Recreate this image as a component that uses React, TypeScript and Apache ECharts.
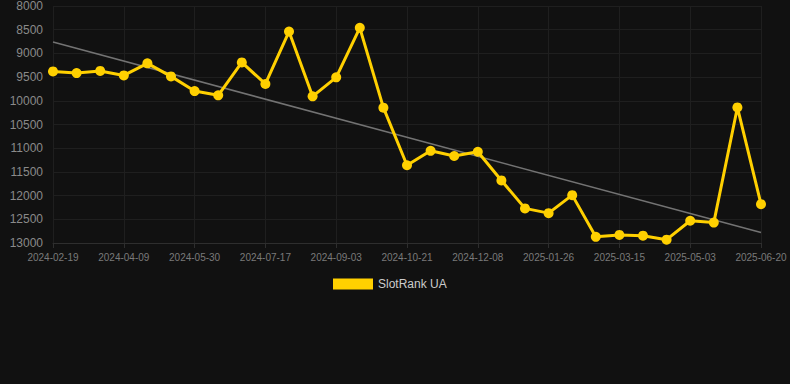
import React, { useEffect, useRef } from "react";
import * as echarts from "echarts";

const categories: string[] = [
  "2024-02-19", "2024-03-06", "2024-03-23",
  "2024-04-09", "2024-04-26", "2024-05-13",
  "2024-05-30", "2024-06-15", "2024-07-01",
  "2024-07-17", "2024-08-02", "2024-08-18",
  "2024-09-03", "2024-09-19", "2024-10-05",
  "2024-10-21", "2024-11-06", "2024-11-22",
  "2024-12-08", "2024-12-24", "2025-01-10",
  "2025-01-26", "2025-02-11", "2025-02-27",
  "2025-03-15", "2025-03-31", "2025-04-17",
  "2025-05-03", "2025-05-19", "2025-06-04",
  "2025-06-20",
];

const rankValues: number[] = [
  9380, 9415, 9370, 9465, 9210, 9485, 9795, 9885, 9190, 9645,
  8540, 9905, 9505, 8460, 10145, 11360, 11055, 11165, 11075, 11680,
  12270, 12370, 11990, 12870, 12830, 12845, 12930, 12530, 12570, 10140,
  12180,
];

// trend line endpoints (first and last category)
const trendStart = 8760;
const trendEnd = 12780;

const yMin = 8000;
const yMax = 13000;
const yStep = 500;

export default function App() {
  const ref = useRef<HTMLDivElement>(null);
  useEffect(() => {
    if (!ref.current) return;
    const chart = echarts.init(ref.current, null, { renderer: "svg" });
    const trendData = categories.map((_, i) =>
      i === 0 ? trendStart : i === categories.length - 1 ? trendEnd : null
    );
    chart.setOption({
      animation: false,
      backgroundColor: "#111111",
      grid: { left: 53, right: 29, top: 6, bottom: 141, containLabel: false },
      legend: {
        data: [{ name: "SlotRank UA", icon: "rect" }],
        bottom: 89,
        left: 328,
        itemWidth: 40,
        itemHeight: 11,
        textStyle: { color: "#cccccc", fontSize: 12, fontFamily: "Liberation Sans, Arial, sans-serif" },
      },
      xAxis: {
        type: "category",
        data: categories,
        boundaryGap: false,
        axisLine: { show: true, lineStyle: { color: "#2e2e2e" } },
        axisTick: { show: true, interval: 2, lineStyle: { color: "#2e2e2e" } },
        axisLabel: {
          interval: 2,
          color: "#7a7a7a",
          fontSize: 10,
          margin: 9,
          fontFamily: "Liberation Sans, Arial, sans-serif",
        },
        splitLine: { show: true, interval: 2, lineStyle: { color: "#1f1f1f" } },
      },
      yAxis: {
        type: "value",
        inverse: true,
        min: yMin,
        max: yMax,
        interval: yStep,
        axisLine: { show: false },
        axisTick: { show: false },
        axisLabel: {
          color: "#8a8a8a",
          fontSize: 12,
          margin: 10,
          formatter: (v: number) => String(v),
          fontFamily: "Liberation Sans, Arial, sans-serif",
        },
        splitLine: { show: true, lineStyle: { color: "#1f1f1f" } },
      },
      series: [
        {
          name: "Trend",
          type: "line",
          data: trendData,
          connectNulls: true,
          showSymbol: false,
          symbol: "none",
          lineStyle: { color: "#737373", width: 1.6 },
          z: 1,
          silent: true,
        },
        {
          name: "SlotRank UA",
          type: "line",
          data: rankValues,
          symbol: "circle",
          symbolSize: 10,
          itemStyle: { color: "#ffd000" },
          lineStyle: { color: "#ffd000", width: 3 },
          z: 2,
        },
      ],
    });
    return () => chart.dispose();
  }, []);
  return (
    <div
      ref={ref}
      style={{ position: "fixed", left: 0, top: 0, width: 790, height: 384 }}
    />
  );
}
